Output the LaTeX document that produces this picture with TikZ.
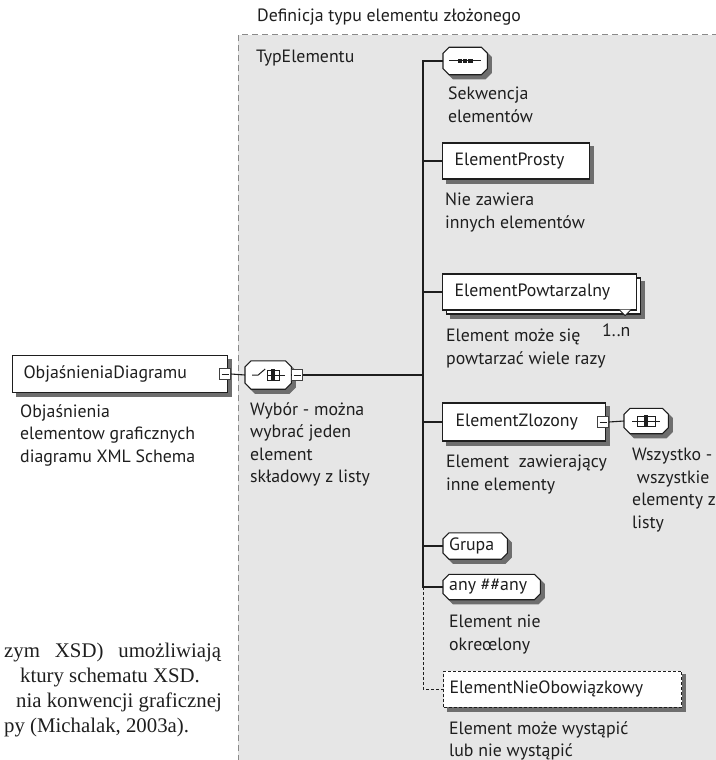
\documentclass[tikz,border=0pt]{standalone}
\usepackage{fontspec}
\setmainfont{PT Sans}
\newfontfamily\bodyserif{Liberation Serif}
\usetikzlibrary{calc}
\definecolor{bgGray}{HTML}{E6E6E6}
\definecolor{shadowgray}{HTML}{6E6E6E}
\definecolor{ink}{HTML}{1E1E1E}
\definecolor{frameGray}{HTML}{8A8A8A}
% octagon (chamfered rectangle) round a named node: #1 node, #2 chamfer
\newcommand\octpath[2]{($(#1.north west)+(#2,0)$) -- ($(#1.north east)+(-#2,0)$) -- ($(#1.north east)+(0,#2)$) -- ($(#1.south east)+(0,-#2)$) -- ($(#1.south east)+(-#2,0)$) -- ($(#1.south west)+(#2,0)$) -- ($(#1.south west)+(0,-#2)$) -- ($(#1.north west)+(0,#2)$) -- cycle}
\begin{document}
\begin{tikzpicture}[x=1pt,y=-1pt,
  every node/.style={font=\fontsize{17.8}{22.5}\selectfont,text=ink},
  elbox/.style={rectangle,draw=ink,line width=1.1pt,fill=white,anchor=west,align=left,inner ysep=0pt,minimum height=36pt},
  shbox/.style={rectangle,draw=shadowgray,line width=1.1pt,fill=shadowgray,anchor=west,inner sep=0pt,minimum height=36pt},
  comp/.style={rectangle,draw=none,anchor=west,inner sep=0pt},
  octo/.style={draw=ink,line width=1.1pt,fill=white},
  octosh/.style={draw=shadowgray,line width=1.1pt,fill=shadowgray},
  mbox/.style={rectangle,draw=ink!85,line width=0.9pt,fill=white,minimum size=11pt,inner sep=0pt,
    path picture={\draw[ink,line width=0.9pt] ([xshift=2pt]path picture bounding box.west) -- ([xshift=-2pt]path picture bounding box.east);}},
  one/.style={anchor=west,inner sep=0pt},
  lbl/.style={anchor=north west,align=left,inner sep=0pt},
  bodyline/.style={anchor=base west,inner sep=0pt,font=\bodyserif\fontsize{20.8}{25}\selectfont},
  conn/.style={draw=ink,line width=1.1pt},
  glyph/.style={draw=ink,line width=1pt}
]
\useasboundingbox (0,0) rectangle (715,760);

% frame
\fill[bgGray] (238,35) rectangle (716,761);
\draw[frameGray,line width=1pt,dash pattern=on 6pt off 4pt] (238,761) -- (238,35) -- (716,35);

\node[one] (title) at (257,17) {Definicja typu elementu złożonego};
\node[one] (typ) at (256,58) {TypElementu};

% left element
\node[shbox,minimum width=215pt,minimum height=37pt] (lbsh) at (16,378) {};
\node[elbox,text width=193pt,inner xsep=11pt,minimum height=37pt] (lb) at (12,374) {ObjaśnieniaDiagramu};
\node[mbox] (lbm) at ($(lb.east)+(-3,0)$) {};
\node[lbl] (lbtxt) at (20,404) {Objaśnienia\\elementow graficznych\\diagramu XML Schema};

% choice compositor
\node[comp,minimum width=46pt,minimum height=28pt] (choicesh) at (249,379) {};
\node[comp,minimum width=46pt,minimum height=28pt] (choice) at (245,375) {};
\fill[octosh] \octpath{choicesh}{6};
\draw[octo] \octpath{choice}{6};
\begin{scope}[shift={(choice.center)}]
  \draw[glyph] (-16,0) -- (-10,0) -- (-3,-6);
  \draw[glyph] (-1,-5) rectangle (11,5);
  \draw[glyph] (-1,0) -- (17,0);
  \fill[ink] (3,-6) rectangle (7,6);
\end{scope}
\node[mbox] (chm) at (297,375) {};
\node[lbl] (wybtxt) at (250,402) {Wybór - można\\wybrać jeden\\element\\składowy z listy};

% bus
\coordinate (busTop) at (423,61);
\coordinate (busEnd) at (423,587);

% sequence
\node[comp,minimum width=44pt,minimum height=27pt] (seqsh) at (447,65) {};
\node[comp,minimum width=44pt,minimum height=27pt] (seq) at (443,61) {};
\fill[octosh] \octpath{seqsh}{6};
\draw[octo] \octpath{seq}{6};
\begin{scope}[shift={(seq.center)}]
  \draw[glyph] (-16,0) -- (16,0);
  \fill[ink] (-7.5,-2.4) rectangle (-3,2.4);
  \fill[ink] (-2.2,-2.4) rectangle (2.2,2.4);
  \fill[ink] (3,-2.4) rectangle (7.5,2.4);
\end{scope}
\node[lbl] (seqtxt) at (448,87) {Sekwencja\\elementów};

% ElementProsty
\node[shbox,minimum width=147pt] (prostysh) at (446,165) {};
\node[elbox,text width=123pt,inner xsep=12pt] (prosty) at (442,161) {ElementProsty};
\node[lbl] (prostytxt) at (445,193) {Nie zawiera\\innych elementów};

% ElementPowtarzalny
\node[shbox,minimum width=194pt] (powtsh) at (450,300) {};
\node[elbox,minimum width=194pt] (powtback) at (446,296) {};
\node[elbox,text width=170pt,inner xsep=12pt] (powt) at (442,292) {ElementPowtarzalny};
\draw[ink,line width=0.9pt,fill=white] ($(powtback.south east)+(-22,-5)$) -- ++(6,6) -- ++(6,-6);
\node[one] (powtn) at (602,330) {1..n};
\node[lbl] (powttxt) at (446,329) {Element może się\\powtarzać wiele razy};

% ElementZlozony
\node[shbox,minimum width=163pt,minimum height=38pt] (zlozsh) at (446,426) {};
\node[elbox,text width=137pt,inner xsep=13pt,minimum height=38pt] (zloz) at (442,422) {ElementZlozony};
\node[mbox] (zlm) at ($(zloz.east)+(-3,0)$) {};
\node[comp,minimum width=44pt,minimum height=25pt] (allsh) at (628,425) {};
\node[comp,minimum width=44pt,minimum height=25pt] (all) at (624,421) {};
\fill[octosh] \octpath{allsh}{6};
\draw[octo] \octpath{all}{6};
\begin{scope}[shift={(all.center)}]
  \draw[glyph] (-14,0) -- (14,0);
  \draw[glyph] (-9,-5) rectangle (9,5);
  \fill[ink] (-2,-6) rectangle (2,6);
\end{scope}
\node[lbl] (zloztxt) at (446,455) {Element\ \ zawierający\\inne elementy};
\node[lbl] (alltxt) at (632,448) {Wszystko -\\\ wszystkie\\elementy z\\listy};

% Grupa
\node[comp,minimum width=64pt,minimum height=26pt] (grupash) at (447,550) {};
\node[comp,minimum width=64pt,minimum height=26pt] (grupa) at (443,546) {};
\fill[octosh] \octpath{grupash}{6};
\draw[octo] \octpath{grupa}{6};
\node[one] (grupatxt) at (449,546) {Grupa};

% any
\node[comp,minimum width=97pt,minimum height=25pt] (anysh) at (447,591) {};
\node[comp,minimum width=97pt,minimum height=25pt] (anyc) at (443,587) {};
\fill[octosh] \octpath{anysh}{6};
\draw[octo] \octpath{anyc}{6};
\node[one] (anytxt) at (449,587) {any \#\#any};
\node[lbl] (anylbl) at (449,615) {Element nie\\okreœlony};

% ElementNieObowiazkowy
\node[shbox,minimum width=238pt] (niesh) at (447,693) {};
\node[elbox,densely dashed,line width=1pt,text width=226pt,inner xsep=6pt] (nie) at (443,689) {ElementNieObowiązkowy};
\node[lbl] (nietxt) at (449,721) {Element może wystąpić\\lub nie wystąpić};

% connectors
\draw[conn] (lbm.east) -- (choice.west);
\draw[conn] (choice.east) -- (chm.west);
\draw[conn] (chm.east) -- (chm.east -| busTop);
\draw[conn] (seq.west) -- (busTop) -- (busEnd) -- (anyc.west);
\draw[conn] (prosty.west) -- (prosty.west -| busTop);
\draw[conn] (powt.west) -- (powt.west -| busTop);
\draw[conn] (zloz.west) -- (zloz.west -| busTop);
\draw[conn] (grupa.west) -- (grupa.west -| busTop);
\draw[conn] (zlm.east) -- (all.west);
\draw[conn,line width=0.9pt,densely dashed] (busEnd) |- (nie.west);

% body text (page text cropped at the left edge)
\node[bodyline] (body1) at (4,657) {\makebox[217pt][s]{zym XSD) umożliwiają}};
\node[bodyline,anchor=base east] (body2) at (200,682) {ktury schematu XSD.};
\node[bodyline,anchor=base east] (body3) at (222,707) {nia konwencji graficznej};
\node[bodyline] (body4) at (4,732) {py (Michalak, 2003a).};
\end{tikzpicture}
\end{document}
